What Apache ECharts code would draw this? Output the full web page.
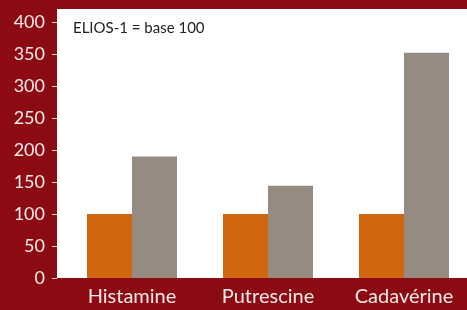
<!DOCTYPE html>
<html>
<head>
<meta charset="utf-8">
<script src="https://cdn.jsdelivr.net/npm/echarts@6/dist/echarts.min.js"></script>
<title>ELIOS</title>
<style>
  html, body { margin: 0; padding: 0; background: #8c0b13; overflow: hidden; }
  /* le graphique dépasse un peu à droite, comme l'original */
  #main { width: 472px; height: 310px; }
</style>
</head>
<body>
<div id="main"></div>
<script type="text/javascript">
// données
var categories = ['Histamine', 'Putrescine', 'Cadavérine'];
var elios1 = [100, 100, 100];
var elios2 = [190, 144, 352];
var yTicks = [0, 50, 100, 150, 200, 250, 300, 350, 400];

var myChart = echarts.init(document.getElementById('main'));

var option = {
    backgroundColor: '#8c0b13',
    animation: false,
    textStyle: { fontFamily: 'Lato' },
    grid: { left: 64, right: 0, top: 22, bottom: 32 },
    graphic: [
        {
            type: 'rect',
            z: -1,
            shape: { x: 57, y: 9, width: 415, height: 269 },
            style: { fill: '#ffffff' }
        },
        {
            type: 'text',
            left: 73,
            top: 21,
            style: { text: 'ELIOS-1 = base 100', font: '15px Lato', fill: '#222222' }
        }
    ],
    xAxis: {
        type: 'category',
        data: categories,
        axisLine: { show: false },
        axisTick: { show: false },
        axisLabel: { color: '#f6e8e8', fontSize: 20, margin: 9 }
    },
    yAxis: {
        type: 'value',
        min: yTicks[0],
        max: yTicks[yTicks.length - 1],
        interval: 50,
        offset: 7,
        splitLine: { show: false },
        axisLine: { show: false },
        axisTick: { show: true, length: 5, lineStyle: { color: '#f0c8c8', width: 1 } },
        axisLabel: { color: '#f6e8e8', fontSize: 18, margin: 12 }
    },
    series: [
        {
            type: 'bar',
            data: elios1,
            barWidth: 45,
            barGap: '0%',
            itemStyle: { color: '#d0660e' }
        },
        {
            type: 'bar',
            data: elios2,
            barWidth: 45,
            itemStyle: { color: '#968b80' }
        }
    ]
};

myChart.setOption(option);
window.onresize = function () { myChart.resize(); };
</script>
</body>
</html>
